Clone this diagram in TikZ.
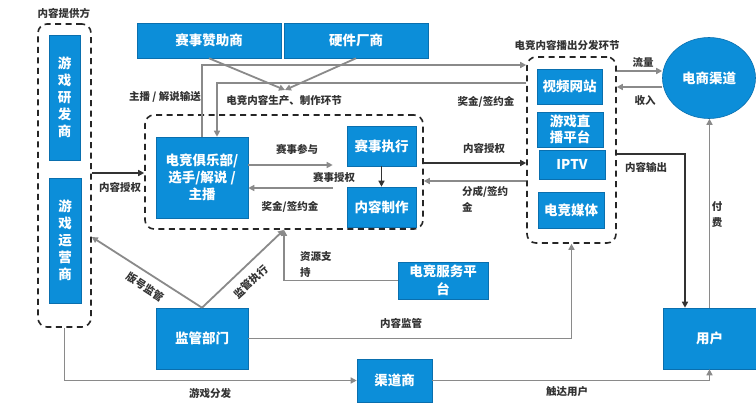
\documentclass[tikz,border=0pt]{standalone}
\usepackage{fontspec}
\setmainfont{Noto Sans CJK SC}
\usetikzlibrary{arrows.meta,shapes.geometric}
\definecolor{boxblue}{HTML}{0C8ED9}
\definecolor{boxedge}{HTML}{0A6FAE}
\definecolor{lgray}{HTML}{8A8A8A}
\definecolor{dgray}{HTML}{333333}
\definecolor{txt}{HTML}{333333}
\tikzset{
  box/.style={draw=boxedge, line width=0.6pt, fill=boxblue, text=white, align=center,
    inner sep=0pt, font=\bfseries\fontsize{13.5}{17}\selectfont},
  dashbox/.style={draw=black!85, line width=1.6pt, dash pattern=on 6pt off 4.5pt, rounded corners=9pt, inner sep=0pt},
  lbl/.style={text=txt, font=\bfseries\fontsize{10.5}{16}\selectfont, inner sep=0pt, align=left},
  garrow/.style={draw=lgray, line width=1.8pt, -{Triangle[length=6pt,width=6pt]}},
  darrow/.style={draw=dgray, line width=1.8pt, -{Triangle[length=6pt,width=6pt]}},
}
\begin{document}
\begin{tikzpicture}[x=1pt,y=-1pt]
\path[use as bounding box, fill=white] (0,0) rectangle (756,406);

% containers
\node[dashbox, minimum width=53pt, minimum height=303pt] (prov) at (64.5,175.5) {};
\node[dashbox, minimum width=278pt, minimum height=114pt] (prodzone) at (284,172) {};
\node[dashbox, minimum width=89pt, minimum height=186pt] (distzone) at (571.5,150) {};

% boxes
\node[box, minimum width=31pt, minimum height=125pt] (dev) at (64.5,97.5) {游\\戏\\研\\发\\商};
\node[box, minimum width=32pt, minimum height=125pt] (op) at (65,240.5) {游\\戏\\运\\营\\商};
\node[box, minimum width=144pt, minimum height=35pt] (sponsor) at (209,40.5) {赛事赞助商};
\node[box, minimum width=144pt, minimum height=35pt] (hw) at (356,40.5) {硬件厂商};
\node[box, minimum width=92pt, minimum height=81pt] (club) at (202,177.5) {电竞俱乐部/\\选手/解说 /\\主播};
\node[box, minimum width=69pt, minimum height=40pt] (exec) at (381.5,146) {赛事执行};
\node[box, minimum width=69pt, minimum height=40pt] (prod) at (381.5,207) {内容制作};
\node[box, minimum width=65pt, minimum height=35pt] (video) at (569.5,86.5) {视频网站};
\node[box, minimum width=66pt, minimum height=35pt, font=\bfseries\fontsize{13.5}{16}\selectfont] (live) at (570,129.5) {游戏直\\播平台};
\node[box, minimum width=66pt, minimum height=29pt] (iptv) at (572,164.5) {IPTV};
\node[box, minimum width=66pt, minimum height=36pt] (media) at (571,210) {电竞媒体};
\node[box, ellipse, minimum width=93pt, minimum height=81pt] (ec) at (709,78) {电商渠道};
\node[box, minimum width=93pt, minimum height=61pt] (user) at (709.5,338.5) {用户};
\node[box, minimum width=92pt, minimum height=61pt] (reg) at (202,338.5) {监管部门};
\node[box, minimum width=75pt, minimum height=43pt] (chan) at (394.5,380.5) {渠道商};
\node[box, minimum width=90pt, minimum height=37pt, font=\bfseries\fontsize{13.5}{18}\selectfont] (svc) at (443,280.5) {电竞服务平\\台};

% coordinates
\coordinate (conv) at (285,90);

% connectors
\draw[darrow] (prov.east|-0,173) -- (prodzone.west|-0,173);
\draw[garrow] (sponsor.south) -- (conv);
\draw[garrow] (hw.south) -- (conv);
\draw[garrow] (club.north) |- (distzone.west|-0,65);
\draw[garrow] (distzone.west|-0,83) -| ([xshift=15pt]club.north);
\draw[garrow] (club.east|-0,165) -- ([xshift=-14pt]exec.west|-0,165);
\draw[garrow] ([xshift=-14pt]exec.west|-0,188) -- (club.east|-0,188);
\draw[darrow] (exec.south) -- (prod.north);
\draw[darrow] (prodzone.east|-0,163) -- (distzone.west|-0,163);
\draw[garrow] (distzone.west|-0,181) -- (prodzone.east|-0,181);
\draw[garrow] (distzone.east|-0,71) -- (ec.west|-0,71);
\draw[garrow] (ec.west|-0,87) -- (distzone.east|-0,87);
\draw[darrow] (distzone.east|-0,154) -| ([xshift=-24.5pt]user.north);
\draw[garrow] (user.north) -- (user.north|-ec.south);
\draw[garrow] (svc.west) -| (prodzone.south);
\draw[garrow] (reg.north) -- (prov.east|-0,237);
\draw[garrow] (reg.north) -- (prodzone.south);
\draw[garrow] (reg.east) -| (distzone.south);
\draw[garrow] (prov.south) |- (chan.west);
\draw[garrow] (chan.east) -| (user.south);

% labels
\node[lbl] (l1) at (64,13) {内容提供方};
\node[lbl] (l2) at (165,97) {主播 / 解说输送};
\node[lbl] (l3) at (284,101) {电竞内容生产、制作环节};
\node[lbl] (l4) at (486,102) {奖金/签约金};
\node[lbl] (l5) at (567,45) {电竞内容播出分发环节};
\node[lbl] (l6) at (643,62) {流量};
\node[lbl] (l7) at (645,101) {收入};
\node[lbl] (l8) at (484,148) {内容授权};
\node[lbl, anchor=west] (l9) at (462,199) {分成/签约\\金};
\node[lbl] (l10) at (646,167) {内容输出};
\node[lbl] (l11) at (717,215) {付\\费};
\node[lbl] (l12) at (297,149) {赛事参与};
\node[lbl] (l13) at (334,177) {赛事授权};
\node[lbl] (l14) at (290,207) {奖金/签约金};
\node[lbl] (l15) at (120,187) {内容授权};
\node[lbl, anchor=west] (l16) at (300,265) {资源支\\持};
\node[lbl, rotate=-33] (l17) at (145,287) {版号监管};
\node[lbl, rotate=42] (l18) at (251,282) {监管执行};
\node[lbl] (l19) at (401,323) {内容监管};
\node[lbl] (l20) at (210,393) {游戏分发};
\node[lbl] (l21) at (567,392) {触达用户};
\end{tikzpicture}
\end{document}
